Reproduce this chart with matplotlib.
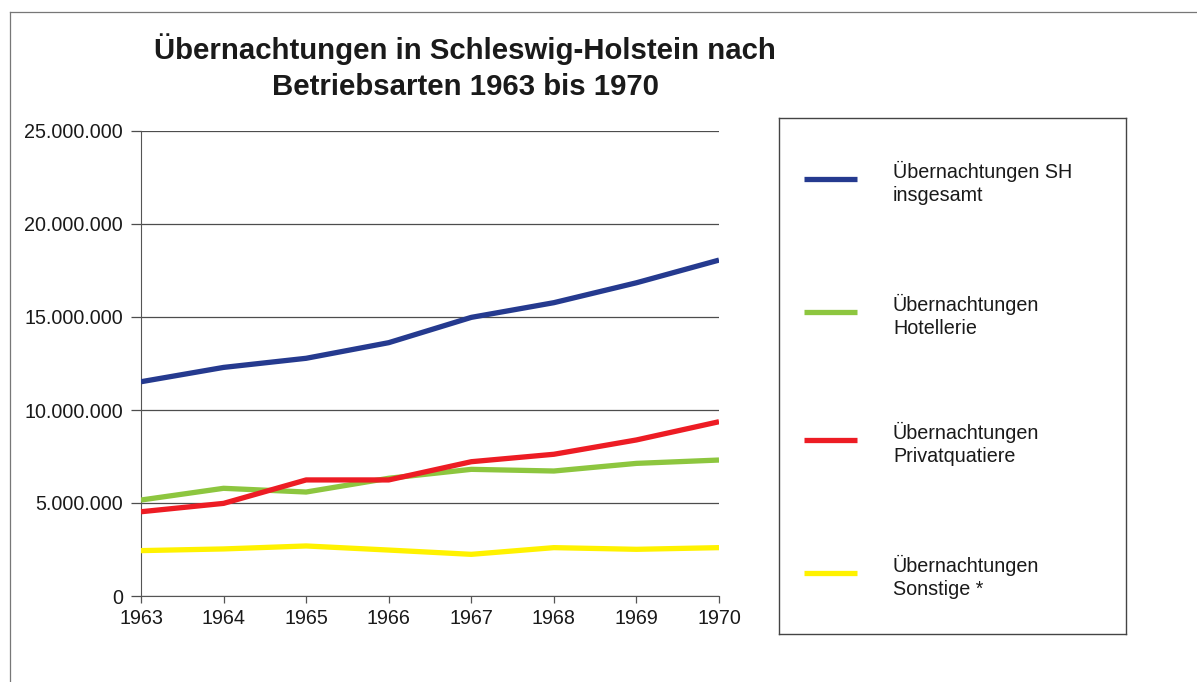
import matplotlib
matplotlib.use("Agg")
from matplotlib import pyplot as plt
from matplotlib.lines import Line2D
from matplotlib.ticker import FuncFormatter

plt.rcParams["font.family"] = ["Liberation Sans", "DejaVu Sans"]

# Years and overnight stays
years = [1963, 1964, 1965, 1966, 1967, 1968, 1969, 1970]
total = [11.52e6, 12.29e6, 12.78e6, 13.62e6, 14.98e6, 15.77e6, 16.84e6, 18.06e6]
hotels = [5.16e6, 5.79e6, 5.59e6, 6.33e6, 6.81e6, 6.72e6, 7.13e6, 7.31e6]
private = [4.53e6, 4.98e6, 6.24e6, 6.24e6, 7.22e6, 7.62e6, 8.39e6, 9.37e6]
other = [2.44e6, 2.53e6, 2.69e6, 2.47e6, 2.24e6, 2.60e6, 2.51e6, 2.60e6]

labels = ["Übernachtungen SH\ninsgesamt", "Übernachtungen\nHotellerie",
          "Übernachtungen\nPrivatquatiere", "Übernachtungen\nSonstige *"]
colors = ["#253a8f", "#8dc63f", "#ed1c24", "#fff200"]
y_ticks = [0, 5e6, 10e6, 15e6, 20e6, 25e6]

W, H = 1197, 682
fig = plt.figure(figsize=(W / 100, H / 100), dpi=100)

# thin frame round the whole graphic (left and top edges visible)
fig.add_artist(Line2D([10 / W, 10 / W], [0, 1 - 12 / H], color="#777777", lw=0.9))
fig.add_artist(Line2D([10 / W, 1], [1 - 12 / H, 1 - 12 / H], color="#777777", lw=0.9))

ax = fig.add_axes([141 / W, 1 - 596 / H, (719 - 141) / W, (596 - 131) / H])
for series, c in zip([total, hotels, private, other], colors):
    ax.plot(years, series, color=c, lw=3.8, solid_capstyle="butt", zorder=3)

ax.set_xlim(years[0], years[-1])
ax.set_ylim(0, 25e6)
ax.set_xticks(years)
ax.set_yticks(y_ticks)
ax.yaxis.set_major_formatter(FuncFormatter(lambda v, p: f"{int(v):,}".replace(",", ".")))
ax.grid(axis="y", color="#4d4d4d", lw=0.9, zorder=1)
for s in ["top", "right"]:
    ax.spines[s].set_visible(False)
ax.spines["left"].set_color("#555555")
ax.spines["bottom"].set_color("#555555")
ax.tick_params(axis="y", length=7, width=0.9, color="#4d4d4d", pad=6, labelsize=14.2, labelcolor="#1a1a1a")
ax.tick_params(axis="x", length=5, width=0.9, color="#555555", pad=4, labelsize=14.2, labelcolor="#1a1a1a")

fig.text(465 / W, 1 - 67 / H, "Übernachtungen in Schleswig-Holstein nach\nBetriebsarten 1963 bis 1970",
         ha="center", va="center", fontsize=21.2, fontweight="bold", color="#1a1a1a", linespacing=1.38)

# legend box on the right
leg = fig.add_axes([779 / W, 1 - 634 / H, (1126 - 779) / W, (634 - 118) / H])
leg.set_xlim(779, 1126)
leg.set_ylim(634, 118)
leg.set_xticks([])
leg.set_yticks([])
for s in leg.spines.values():
    s.set_color("#444444")
    s.set_linewidth(1.0)
for ly, lab, c in zip([179, 312, 440, 573], labels, colors):
    leg.plot([804, 857], [ly, ly], color=c, lw=3.8, solid_capstyle="butt")
    leg.text(893, ly + 4, lab, ha="left", va="center", fontsize=14.2, color="#1a1a1a", linespacing=1.22)

fig.savefig("out.png", dpi=100)
